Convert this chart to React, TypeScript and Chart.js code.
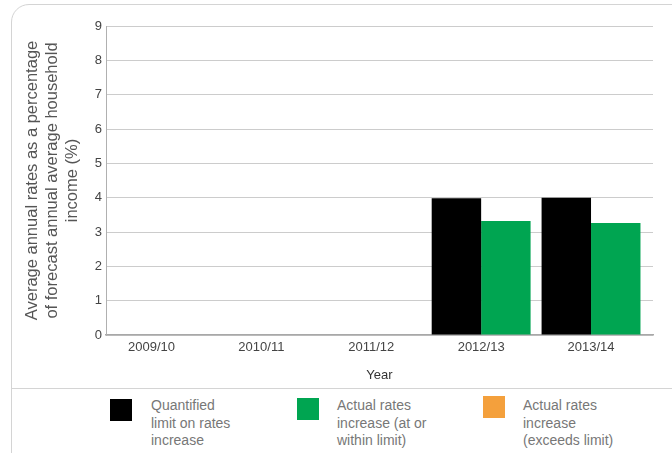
import React, { useEffect, useRef } from "react";
import { Chart, registerables } from "chart.js";

Chart.register(...registerables);

const categories = ["2009/10", "2010/11", "2011/12", "2012/13", "2013/14"];
const quantifiedLimit = [null, null, null, 3.98, 4.0];
const actualWithin = [null, null, null, 3.32, 3.26];
const actualExceeds = [null, null, null, null, null];
const yTicks = [0, 1, 2, 3, 4, 5, 6, 7, 8, 9];
const yTitle = [
  "Average annual rates as a percentage",
  "of forecast annual average household",
  "income (%)",
];
const xTitle = "Year";
const legendItems = [
  { color: "#000000", lines: ["Quantified", "limit on rates", "increase"] },
  { color: "#00a551", lines: ["Actual rates", "increase (at or", "within limit)"] },
  { color: "#f4a03c", lines: ["Actual rates", "increase", "(exceeds limit)"] },
];

const FONT = "'Liberation Sans', Arial, Helvetica, sans-serif";

function toPoints(values: (number | null)[]) {
  return values.map((v, i) => ({ x: i, y: v }));
}

export default function App() {
  const ref = useRef<HTMLCanvasElement | null>(null);

  useEffect(() => {
    if (!ref.current) return;
    const chart = new Chart(ref.current, {
      type: "bar",
      data: {
        datasets: [
          {
            label: legendItems[0].lines.join(" "),
            data: toPoints(quantifiedLimit) as any,
            backgroundColor: legendItems[0].color,
            skipNull: true,
          },
          {
            label: legendItems[1].lines.join(" "),
            data: toPoints(actualWithin) as any,
            backgroundColor: legendItems[1].color,
            skipNull: true,
          },
          {
            label: legendItems[2].lines.join(" "),
            data: toPoints(actualExceeds) as any,
            backgroundColor: legendItems[2].color,
            skipNull: true,
          },
        ],
      },
      options: {
        responsive: false,
        devicePixelRatio: 1,
        animation: false,
        categoryPercentage: 0.9,
        barPercentage: 1.0,
        layout: { padding: { left: 0, top: 26, right: 19, bottom: 3 } },
        plugins: {
          legend: { display: false },
          tooltip: { enabled: false },
        },
        scales: {
          x: {
            type: "linear",
            offset: false,
            min: -0.414,
            max: 4.564,
            afterFit: (s: any) => {
              s.height = 50;
            },
            afterBuildTicks: (s: any) => {
              s.ticks = categories.map((_, i) => ({ value: i }));
            },
            ticks: {
              includeBounds: false,
              stepSize: 1,
              padding: 5,
              color: "#444",
              font: { family: FONT, size: 13 },
              callback: (v: any) => categories[Number(v)] ?? "",
              maxRotation: 0,
              autoSkip: false,
            },
            grid: { display: false, drawTicks: false, offset: false },
            border: { display: true, color: "#a8a8a8", width: 1.5 },
            title: {
              display: true,
              text: xTitle,
              color: "#333",
              font: { family: FONT, size: 13 },
              padding: { top: 0, bottom: 2 },
            },
          },
          y: {
            min: 0,
            max: 9,
            afterFit: (s: any) => {
              s.width = 106;
            },
            afterBuildTicks: (s: any) => {
              s.ticks = yTicks.map((v) => ({ value: v }));
            },
            ticks: {
              stepSize: 1,
              padding: 4,
              color: "#444",
              font: { family: FONT, size: 13 },
            },
            grid: { color: "#cccccc", lineWidth: 1, drawTicks: false },
            border: { display: true, color: "#b0b0b0", width: 1 },
            title: {
              display: true,
              text: yTitle,
              color: "#555",
              font: { family: FONT, size: 16.5, lineHeight: 20 / 16.5 },
              padding: { top: 22, bottom: 0 },
            },
          },
        },
      } as any,
    });
    return () => chart.destroy();
  }, []);

  const legendX = [110, 297, 483];
  const legendTextX = [151, 337, 523];
  const legendSqY = [399, 398, 396];

  return (
    <div
      style={{
        position: "absolute",
        left: 0,
        top: 0,
        width: 672,
        height: 453,
        overflow: "hidden",
        background: "#fff",
        fontFamily: FONT,
      }}
    >
      <div
        style={{
          position: "absolute",
          left: 11,
          top: 4,
          width: 720,
          height: 470,
          border: "1px solid #d4d4d4",
          borderRadius: 18,
          boxSizing: "border-box",
        }}
      />
      <div
        style={{
          position: "absolute",
          left: 11,
          top: 388,
          width: 700,
          height: 0,
          borderTop: "1px solid #d4d4d4",
        }}
      />
      <canvas
        ref={ref}
        width={672}
        height={388}
        style={{ position: "absolute", left: 0, top: 0, width: 672, height: 388 }}
      />
      {legendItems.map((item, i) => (
        <React.Fragment key={i}>
          <div
            style={{
              position: "absolute",
              left: legendX[i],
              top: legendSqY[i],
              width: 22,
              height: 22,
              background: item.color,
            }}
          />
          <div
            style={{
              position: "absolute",
              left: legendTextX[i],
              top: 397,
              fontSize: 14,
              lineHeight: "17.5px",
              color: "#777",
              whiteSpace: "nowrap",
            }}
          >
            {item.lines.map((l, j) => (
              <div key={j}>{l}</div>
            ))}
          </div>
        </React.Fragment>
      ))}
    </div>
  );
}
